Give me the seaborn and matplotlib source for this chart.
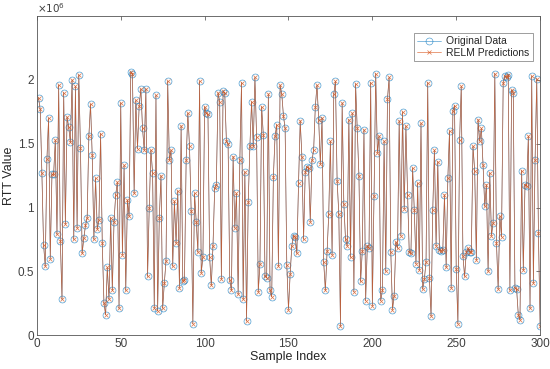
import numpy as np
import pandas as pd
import matplotlib
matplotlib.use("Agg")
import matplotlib.pyplot as plt
import seaborn as sns

# values in units of 1e6
seg1 = [1.86, 1.77, 1.27, 0.71, 0.54, 1.38, 1.70, 0.60, 1.26, 1.26, 1.53, 0.79, 1.96, 0.74, 0.28,
        1.90, 0.87, 1.71, 1.63, 1.51, 2.00, 0.75, 1.95, 0.84, 2.04, 1.47, 0.64]
seg2 = [0.76, 0.86, 0.92, 1.56, 1.81, 1.41, 0.75, 1.23, 0.83, 0.90, 1.58, 0.72, 0.25, 0.16, 0.53,
        0.28, 0.92, 0.35, 0.89, 1.10, 1.20, 0.21, 1.82, 0.63, 1.33, 0.35]
seg3 = [1.06, 0.93, 2.06, 2.05, 1.11, 1.84, 1.46, 1.80, 1.93, 1.62, 1.45, 1.93, 0.46, 1.00, 1.45,
        1.27, 0.21, 1.88, 0.19, 0.92, 1.25, 0.21, 0.41, 0.58, 1.99, 1.37]
seg4 = [1.45, 0.54, 1.05, 0.72, 1.13, 0.37, 1.64, 0.42, 0.43, 1.37, 1.74, 1.48, 0.97, 0.09, 1.11,
        0.89, 0.65, 1.99, 0.49, 0.61, 1.79, 1.74, 1.73, 0.61, 0.39, 0.70]
seg5 = [1.15, 1.18, 1.90, 1.83, 0.44, 1.91, 1.90, 1.52, 1.50, 0.43, 0.35, 1.40, 0.84, 1.11, 0.32,
        1.37, 1.98, 0.28, 1.28, 0.11, 1.04, 1.48, 1.83, 1.48]
seg6 = [2.02, 1.55, 0.34, 0.56, 1.79, 1.57, 0.46, 0.45, 1.89, 0.35, 0.30, 1.24, 1.56, 1.65, 0.54,
        1.96, 1.89, 1.72, 1.62, 0.55, 0.20, 0.48, 0.70, 0.78, 0.77, 0.64, 1.19]
seg7 = [1.68, 1.40, 0.75, 1.28, 1.32, 1.31, 0.89, 1.37, 1.45, 1.79, 1.96, 1.69, 1.34, 1.70, 0.57,
        0.35, 0.66, 0.95, 1.52, 0.63, 1.89, 1.99, 1.21, 0.95, 0.07, 1.82]
seg8 = [1.03, 0.75, 0.70, 1.69, 0.61, 1.74, 0.34, 1.97, 1.62, 1.25, 0.42, 0.66, 1.61, 0.27, 0.70,
        0.68, 1.98, 0.23, 1.09, 2.05, 1.43, 1.56, 0.27, 0.35, 1.52, 0.50, 1.85]
seg9 = [2.02, 0.65, 0.20, 0.31, 0.73, 0.68, 1.68, 0.78, 1.75, 0.99, 1.64, 1.10, 0.65, 0.64, 1.31,
        0.98, 0.56, 1.19, 0.51, 1.66, 0.36, 0.44, 0.57, 1.98, 0.45, 0.15, 0.98]
seg10 = [1.45, 0.70, 1.36, 0.67, 0.66, 0.67, 1.10, 0.53, 1.23, 1.60, 0.37, 1.76, 1.80, 0.52, 0.09,
         1.53, 1.95, 0.62, 0.46, 0.65, 0.68, 0.65, 0.65, 1.48, 1.29, 0.59, 1.69]
seg11 = [1.52, 1.62, 1.33, 1.01, 1.18, 0.50, 1.27, 0.78, 0.88, 2.05, 0.72, 0.36, 0.93, 0.77, 1.98,
         2.03, 2.02, 2.04, 0.35, 1.92, 1.90, 0.37, 0.36, 0.16, 0.12, 1.29, 0.51]
seg12 = [1.18, 1.17, 1.56, 0.21, 2.03, 0.41, 1.37, 2.01, 0.80, 0.07]

original_data = np.array(seg1 + seg2 + seg3 + seg4 + seg5 + seg6 + seg7 + seg8 +
                         seg9 + seg10 + seg11 + seg12) * 1e6
# predictions coincide with the originals at this resolution
relm_predictions = original_data.copy()
sample_index = np.arange(1, len(original_data) + 1)

x_ticks = [0, 50, 100, 150, 200, 250, 300]
y_ticks = [0, 0.5e6, 1.0e6, 1.5e6, 2.0e6]
y_tick_labels = ["0", "0.5", "1", "1.5", "2"]

sns.set_theme(style="white")
plt.rcParams["font.family"] = ["Liberation Sans", "DejaVu Sans"]

fig = plt.figure(figsize=(5.5, 3.69), dpi=100)
ax = fig.add_axes([0.067, 0.092, 0.915, 0.864])

df = pd.DataFrame({"idx": sample_index, "orig": original_data, "pred": relm_predictions})
blue = "#0072BD"
orange = "#D95319"
sns.lineplot(data=df, x="idx", y="orig", ax=ax, color=blue, linewidth=0.45,
             marker="o", markersize=5, markerfacecolor="none", markeredgecolor=blue,
             markeredgewidth=0.45, alpha=0.75, label="Original Data")
sns.lineplot(data=df, x="idx", y="pred", ax=ax, color=orange, linewidth=0.5,
             marker="x", markersize=3, markeredgecolor=orange, markeredgewidth=0.5,
             alpha=0.8, label="RELM Predictions")

ax.set_xlim(0, 300)
ax.set_ylim(0, 2.5e6)
ax.set_xticks(x_ticks)
ax.set_yticks(y_ticks)
ax.set_yticklabels(y_tick_labels)
ax.set_xlabel("Sample Index", fontsize=9, color="#262626", labelpad=1)
ax.set_ylabel("RTT Value", fontsize=9, color="#262626", labelpad=2)
ax.tick_params(axis="both", direction="in", length=3, width=0.5, labelsize=8.5,
               colors="#404040", top=True, right=True, pad=2)
for s in ax.spines.values():
    s.set_color("#555555")
    s.set_linewidth(0.6)
ax.text(0, 1.004, r"$\times10^{6}$", transform=ax.transAxes, fontsize=7.5,
        color="#404040", ha="left", va="bottom")

leg = ax.legend(loc="upper right", fontsize=7.5, frameon=True, fancybox=False,
                borderpad=0.35, handlelength=2.3, labelspacing=0.15, handletextpad=0.5,
                bbox_to_anchor=(0.997, 0.965))
leg.get_frame().set_edgecolor("#555555")
leg.get_frame().set_linewidth(0.5)

fig.savefig("out.png", dpi=100)
